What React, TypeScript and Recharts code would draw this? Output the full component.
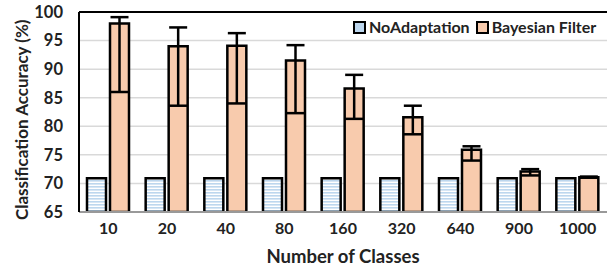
import React from 'react';
import { BarChart, Bar, XAxis, YAxis, CartesianGrid, ErrorBar, ReferenceLine } from 'recharts';

const categories = ['10', '20', '40', '80', '160', '320', '640', '900', '1000'];
const noAdaptation = [70.9, 70.9, 70.9, 70.9, 70.9, 70.9, 70.9, 70.9, 70.9];
const bayesian = [98.0, 94.0, 94.1, 91.5, 86.6, 81.6, 75.9, 72.1, 71.1];
const bayesUpper = [99.1, 97.3, 96.3, 94.2, 89.0, 83.6, 76.5, 72.5, 71.2];
const bayesLower = [86.0, 83.6, 84.0, 82.3, 81.3, 78.6, 74.0, 71.4, 71.0];
const yTicks = [65, 70, 75, 80, 85, 90, 95, 100];

const data = categories.map((c, i) => ({
  cat: c,
  noAdapt: noAdaptation[i],
  bayes: bayesian[i],
  bayesErr: [+(bayesian[i] - bayesLower[i]).toFixed(2), +(bayesUpper[i] - bayesian[i]).toFixed(2)],
}));

const FONT = 'Lato, "Open Sans", sans-serif';

const Swatch = ({ fill }: { fill: string }) => (
  <svg width={13} height={13} style={{ display: 'block' }}>
    <rect x={1} y={1} width={11} height={11} fill={fill} stroke="#000" strokeWidth={2} />
  </svg>
);

export default function App() {
  return (
    <div style={{ position: 'absolute', left: 0, top: 0, width: 608, height: 268, background: '#fff' }}>
      <BarChart
        width={608}
        height={268}
        data={data}
        margin={{ top: 12, right: 1, bottom: 0, left: 0 }}
        barCategoryGap="15%"
        barGap={4}
      >
        <defs>
          <pattern id="stripes" width="3" height="3" patternUnits="userSpaceOnUse">
            <rect x="0" y="0" width="3" height="3" fill="#ffffff" />
            <rect x="0" y="0" width="3" height="1.6" fill="#BDD7EE" />
          </pattern>
        </defs>
        <CartesianGrid vertical={false} stroke="#d9d9d9" strokeWidth={1.5} />
        <XAxis
          dataKey="cat"
          height={56}
          tickLine={false}
          tickSize={0}
          tickMargin={11}
          axisLine={{ stroke: '#999', strokeWidth: 2 }}
          tick={{ fill: '#222', fontSize: 16, fontWeight: 700, fontFamily: FONT }}
          label={{ value: 'Number of Classes', position: 'insideBottom', offset: 5, fill: '#222', fontSize: 18.5, fontWeight: 700, fontFamily: FONT }}
        />
        <YAxis
          width={79}
          domain={[65, 100]}
          ticks={yTicks}
          allowDataOverflow
          tickLine={false}
          tickSize={0}
          tickMargin={16}
          axisLine={{ stroke: '#000', strokeWidth: 2 }}
          tick={{ fill: '#222', fontSize: 16.5, fontWeight: 700, fontFamily: FONT }}
          label={{ value: 'Classification Accuracy (%)', angle: -90, position: 'insideLeft', offset: 22, dy: 108, fill: '#222', fontSize: 17, fontWeight: 700, fontFamily: FONT }}
        />
        <YAxis
          yAxisId="r"
          orientation="right"
          width={0}
          domain={[65, 100]}
          tick={false}
          tickLine={false}
          axisLine={{ stroke: '#bbb', strokeWidth: 1.5 }}
        />
        <ReferenceLine y={100} stroke="#000" strokeWidth={2} />
        <Bar dataKey="noAdapt" barSize={19} fill="url(#stripes)" stroke="#000" strokeWidth={2.5} isAnimationActive={false} />
        <Bar dataKey="bayes" barSize={19} fill="#F8CBAD" stroke="#000" strokeWidth={2.5} isAnimationActive={false}>
          <ErrorBar dataKey="bayesErr" width={9} stroke="#000" strokeWidth={2.5} />
        </Bar>
      </BarChart>
      <div
        style={{
          position: 'absolute',
          top: 18,
          left: 353,
          display: 'flex',
          alignItems: 'center',
          fontFamily: FONT,
          fontWeight: 700,
          fontSize: 16,
          color: '#222',
          lineHeight: '18px',
          whiteSpace: 'nowrap',
        }}
      >
        <Swatch fill="#BDD7EE" />
        <span style={{ marginLeft: 3, marginRight: 6 }}>NoAdaptation</span>
        <Swatch fill="#F8CBAD" />
        <span style={{ marginLeft: 3 }}>Bayesian Filter</span>
      </div>
    </div>
  );
}
